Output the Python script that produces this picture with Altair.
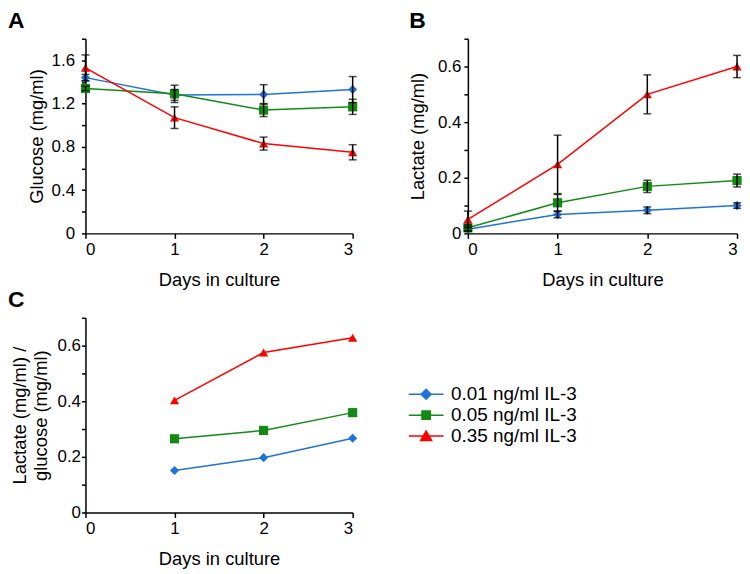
import altair as alt
import pandas as pd

FONT = "Liberation Sans"

days = [0, 1, 2, 3]
ratio_days = [1, 2, 3]
series = ["0.01 ng/ml IL-3", "0.05 ng/ml IL-3", "0.35 ng/ml IL-3"]
colors = ["#1f72d8", "#138a13", "#ff0000"]
shapes = ["diamond", "square", "triangle-up"]
legend_paths = [
    "M-1.75,0H1.75M0,-0.5L0.5,0L0,0.5L-0.5,0Z",
    "M-1.75,0H1.75M-0.42,-0.42H0.42V0.42H-0.42Z",
    "M-1.75,0H1.75M0,-0.5L0.55,0.45H-0.55Z",
]

# Panel A: glucose (mg/ml)
glucose_001 = [1.44, 1.28, 1.285, 1.33]
glucose_005 = [1.34, 1.29, 1.14, 1.17]
glucose_035 = [1.53, 1.07, 0.83, 0.75]
glucose_err_001 = [0.03, 0.05, 0.09, 0.12]
glucose_err_005 = [0.02, 0.08, 0.06, 0.07]
glucose_err_035 = [0.12, 0.10, 0.06, 0.07]

# Panel B: lactate (mg/ml)
lactate_001 = [0.015, 0.068, 0.083, 0.10]
lactate_005 = [0.02, 0.11, 0.169, 0.19]
lactate_035 = [0.05, 0.248, 0.50, 0.60]
lactate_err_001 = [0.008, 0.012, 0.012, 0.01]
lactate_err_005 = [0.01, 0.03, 0.022, 0.023]
lactate_err_035 = [0.03, 0.105, 0.07, 0.04]

# Panel C: lactate / glucose
ratio_001 = [0.151, 0.197, 0.267]
ratio_005 = [0.265, 0.295, 0.359]
ratio_035 = [0.403, 0.575, 0.628]

yticks_a = [0, 0.2, 0.4, 0.6, 0.8, 1.0, 1.2, 1.4, 1.6, 1.8]
yticks_bc = [0, 0.1, 0.2, 0.3, 0.4, 0.5, 0.6, 0.7]


def long_df(x, vals, errs=None):
    rows = []
    for i, s in enumerate(series):
        for j, d in enumerate(x):
            v = vals[i][j]
            e = errs[i][j] if errs else 0.0
            rows.append({"series": s, "day": d, "value": v, "lo": v - e, "hi": v + e})
    return pd.DataFrame(rows)


def pick(values):
    expr = f"'{values[-1]}'"
    for s, v in reversed(list(zip(series[:-1], values[:-1]))):
        expr = f"datum.value === '{s}' ? '{v}' : {expr}"
    return expr


def panel(df, width, ymax, yticks, step10, ytitle, ytitle_x, letter, letter_dx,
          label_pad, errors=True, legend=None):
    xscale = alt.Scale(domain=[0, 3], nice=False, zero=False)
    yscale = alt.Scale(domain=[0, ymax], nice=False)
    xaxis = alt.Axis(values=days, format="d", title="Days in culture",
                     tickSize=5, labelPadding=3, titleX=width / 2, titleY=46,
                     titleBaseline="middle")
    label_expr = (f"round(datum.value*10) % {step10} === 0 ? "
                  f"(datum.value === 0 ? '0' : format(datum.value, '.1f')) : ''")
    yaxis = alt.Axis(values=yticks, labelExpr=label_expr, title=ytitle,
                     tickSize=4, labelPadding=label_pad, titleX=ytitle_x,
                     titleY=98, titleBaseline="middle", titleAngle=-90)
    x = alt.X("day:Q", scale=xscale, axis=xaxis)
    y = alt.Y("value:Q", scale=yscale, axis=yaxis)
    cscale = alt.Scale(domain=series, range=colors)
    base = alt.Chart(df)
    lines = base.mark_line(strokeWidth=1.5).encode(
        x=x, y=y, color=alt.Color("series:N", scale=cscale, legend=legend))
    layers = [lines]
    for s, shp in zip(series, shapes):
        layers.append(
            base.transform_filter(alt.datum.series == s)
            .mark_point(filled=True, size=85, opacity=1, shape=shp)
            .encode(x=x, y=y, color=alt.Color("series:N", scale=cscale, legend=None))
        )
    if errors:
        ye = alt.Y("lo:Q", scale=yscale, axis=yaxis)
        rules = base.mark_rule(color="black", strokeWidth=1.5).encode(
            x=x, y=ye, y2="hi:Q")
        cap_lo = base.mark_tick(color="black", orient="horizontal", size=8,
                                thickness=1.5).encode(x=x, y=ye)
        cap_hi = base.mark_tick(color="black", orient="horizontal", size=8,
                                thickness=1.5).encode(
            x=x, y=alt.Y("hi:Q", scale=yscale, axis=yaxis))
        layers += [rules, cap_lo, cap_hi]
    return alt.layer(*layers).properties(
        width=width, height=196,
        title=alt.TitleParams(letter, anchor="start", frame="group", dx=letter_dx,
                              fontSize=23, fontWeight="bold", font=FONT,
                              color="black", offset=5),
    )


df_a = long_df(days, [glucose_001, glucose_005, glucose_035],
               [glucose_err_001, glucose_err_005, glucose_err_035])
df_b = long_df(days, [lactate_001, lactate_005, lactate_035],
               [lactate_err_001, lactate_err_005, lactate_err_035])
df_c = long_df(ratio_days, [ratio_001, ratio_005, ratio_035])

legend_c = alt.Legend(
    title=None, orient="none", legendX=332, legendY=66, padding=0,
    symbolType=alt.ExprRef(expr=pick(legend_paths)),
    symbolStrokeColor=alt.ExprRef(expr=pick(colors)),
    symbolFillColor=alt.ExprRef(expr=pick(colors)),
    symbolSize=400, symbolStrokeWidth=1.5, symbolOpacity=1,
    labelFontSize=19, labelFont=FONT, labelColor="black",
    labelOffset=14, rowPadding=-4,
)

chart_a = panel(df_a, 269, 1.8, yticks_a, 4, "Glucose (mg/ml)", -49, "A", -78, 7)
chart_b = panel(df_b, 271, 0.7, yticks_bc, 2, "Lactate (mg/ml)", -51, "B", -59, 3)
chart_c = panel(df_c, 269, 0.7, yticks_bc, 2,
                ["Lactate (mg/ml) /", "glucose (mg/ml)"], -66, "C", -78, 1,
                errors=False, legend=legend_c)

chart = alt.concat(
    chart_a, chart_b, chart_c, columns=2, bounds="flush",
    spacing={"row": 85, "column": 116},
).resolve_scale(
    color="independent"
).resolve_legend(
    color="independent"
).properties(
    padding=0
).configure_view(
    stroke=None
).configure_axis(
    grid=False, domainColor="black", domainWidth=1.5, tickColor="black",
    tickWidth=1.5, labelFont=FONT, titleFont=FONT, labelFontSize=17,
    titleFontSize=18.5, labelColor="black", titleColor="black",
    titleFontWeight="normal",
)

chart.save("out.html", embed_options={"renderer": "svg", "actions": False})
